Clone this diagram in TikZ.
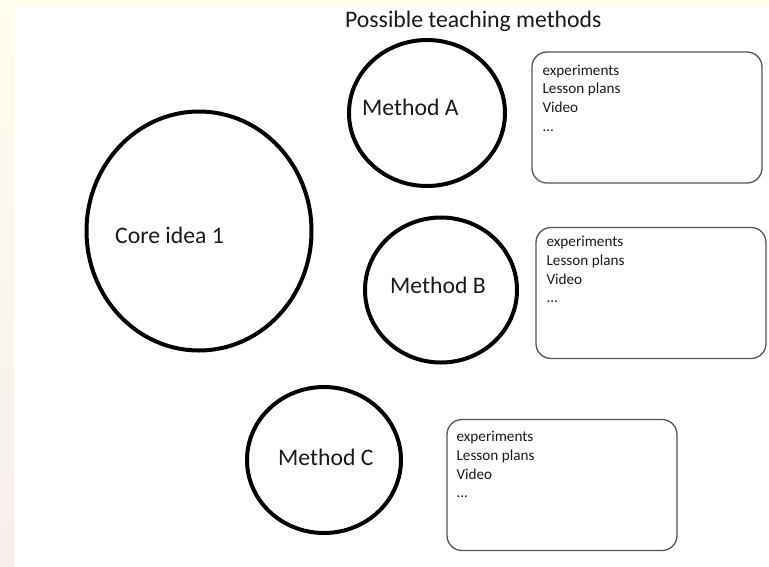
\documentclass[tikz,border=0pt]{standalone}
\usepackage{fontspec}
\setmainfont{Carlito}
\usetikzlibrary{shapes.geometric}

\definecolor{inkdark}{HTML}{1A1A1A}
\definecolor{boxline}{HTML}{555555}
\definecolor{creamtop}{HTML}{FFFDEC}
\definecolor{pinkbottom}{HTML}{F8EEEC}

\tikzset{
  bigcircle/.style={ellipse, draw=black, line width=4pt, inner sep=0pt},
  label/.style={anchor=base west, inner sep=0pt, text=inkdark, font=\fontsize{23.7}{26}\selectfont},
  listbox/.style={rectangle, draw=boxline, line width=1.3pt, rounded corners=15pt,
    minimum width=230pt, minimum height=131pt, inner sep=0pt},
  % the base anchor of a multi-line node sits on its last line
  listtext/.style={anchor=base west, inner sep=0pt, align=left, text=inkdark,
    font=\fontsize{15.2}{18.7}\selectfont},
}

\newcommand{\resourcelist}{experiments\\Lesson plans\\Video\\...}

\begin{document}
\begin{tikzpicture}[x=1pt,y=-1pt]
  % page and margin bands
  \useasboundingbox (0,0) rectangle (769,566);
  \fill[white] (0,0) rectangle (769,566);
  \fill[creamtop] (0,0) rectangle (769,7);
  \shade[top color=creamtop, bottom color=pinkbottom] (0,0) rectangle (14,566);

  % title
  \node[label] (title) at (345,27) {Possible teaching methods};

  % central idea
  \node[bigcircle, minimum width=225pt, minimum height=239pt] (core) at (199,231) {};
  \node[label] (corelbl) at (115,243) {Core idea 1};

  % methods
  \node[bigcircle, minimum width=156pt, minimum height=146pt] (ma) at (427,113) {};
  \node[label] (malbl) at (362,115) {Method A};

  \node[bigcircle, minimum width=152pt, minimum height=145pt] (mb) at (441,290) {};
  \node[label] (mblbl) at (390,293) {Method B};

  \node[bigcircle, minimum width=154pt, minimum height=146pt] (mc) at (324,460) {};
  \node[label] (mclbl) at (278,465) {Method C};

  % resource boxes
  \node[listbox] (ba) at (647,117.5) {};
  \node[listtext] (ta) at ([xshift=11pt,yshift=-80pt]ba.north west) {\resourcelist};

  \node[listbox] (bb) at (651,293) {};
  \node[listtext] (tb) at ([xshift=11pt,yshift=-76pt]bb.north west) {\resourcelist};

  \node[listbox] (bc) at (562,485) {};
  \node[listtext] (tc) at ([xshift=10pt,yshift=-79pt]bc.north west) {\resourcelist};
\end{tikzpicture}
\end{document}
